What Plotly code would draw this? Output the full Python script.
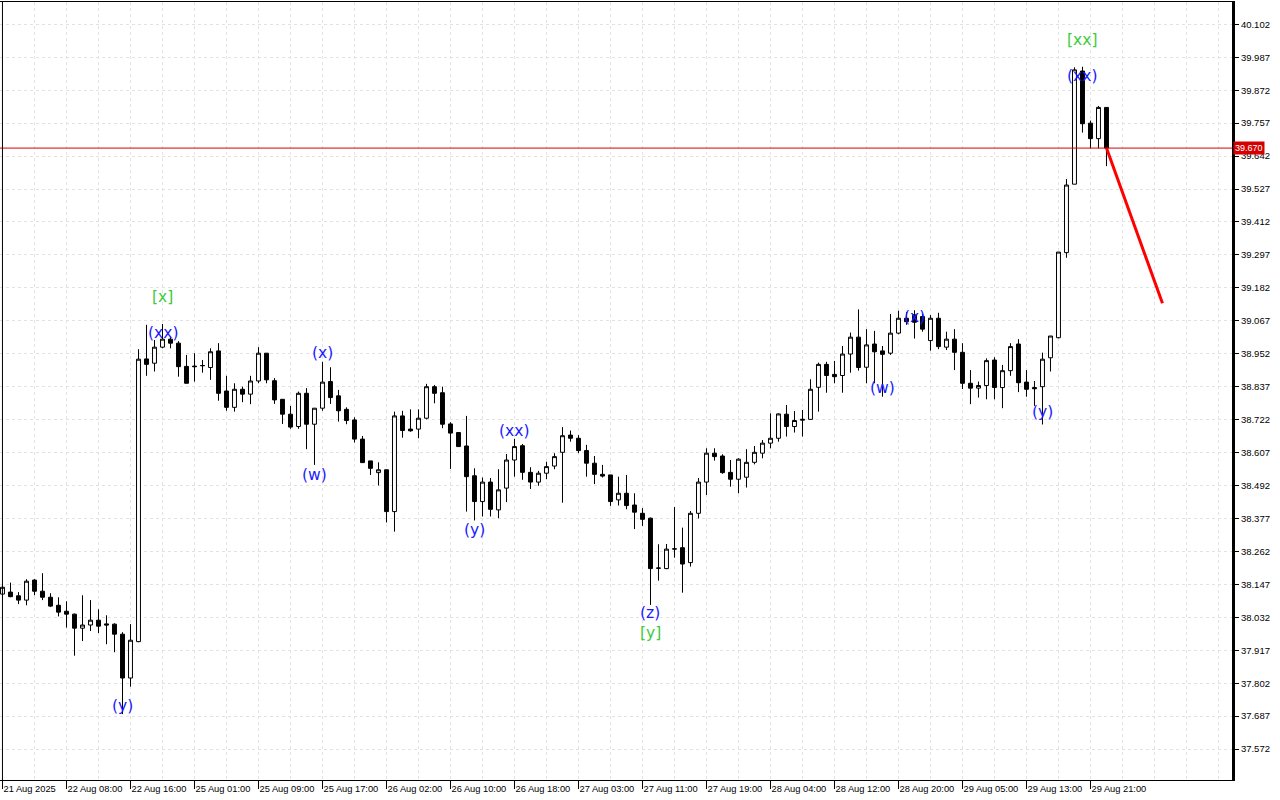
import plotly.graph_objects as go

# ---- data (hourly bars, 21 Aug 23:00 .. 29 Aug 23:00) ----
opens = [38.113, 38.120, 38.107, 38.092, 38.162, 38.123, 38.102, 38.074, 38.053, 38.043,
         37.994, 38.005, 38.022, 38.009, 38.008, 37.973, 37.820, 37.947, 38.934, 38.919,
         38.975, 39.003, 38.989, 38.908, 38.909, 38.910, 38.904, 38.962, 38.822, 38.765,
         38.828, 38.811, 38.857, 38.954, 38.858, 38.793, 38.741, 38.698, 38.814, 38.706,
         38.762, 38.855, 38.805, 38.758, 38.721, 38.654, 38.578, 38.537, 38.547, 38.401,
         38.735, 38.689, 38.689, 38.727, 38.837, 38.816, 38.707, 38.677, 38.630, 38.526,
         38.436, 38.504, 38.407, 38.483, 38.581, 38.631, 38.538, 38.504, 38.535, 38.560,
         38.608, 38.668, 38.657, 38.614, 38.570, 38.531, 38.529, 38.442, 38.465, 38.424,
         38.395, 38.378, 38.203, 38.202, 38.270, 38.275, 38.223, 38.395, 38.504, 38.605,
         38.595, 38.538, 38.514, 38.521, 38.573, 38.605, 38.640, 38.657, 38.741, 38.698,
         38.720, 38.723, 38.835, 38.915, 38.880, 38.876, 38.951, 39.010, 38.905, 38.986,
         38.962, 38.954, 39.024, 39.076, 39.088, 39.082, 38.998, 39.076, 38.975, 39.003,
         38.957, 38.849, 38.832, 38.841, 38.930, 38.834, 38.893, 38.986, 38.853, 38.834,
         38.837, 38.938, 39.008, 39.305, 39.544, 39.939, 39.757, 39.703, 39.812]
highs = [38.150, 38.153, 38.120, 38.165, 38.165, 38.186, 38.116, 38.102, 38.088, 38.045,
         38.109, 38.092, 38.060, 38.039, 38.011, 37.980, 38.008, 38.968, 39.053, 39.000,
         39.056, 39.012, 38.996, 38.948, 38.954, 38.930, 38.971, 38.989, 38.875, 38.849,
         38.837, 38.875, 38.975, 38.954, 38.867, 38.793, 38.770, 38.820, 38.832, 38.762,
         38.924, 38.905, 38.826, 38.765, 38.730, 38.665, 38.578, 38.573, 38.547, 38.750,
         38.753, 38.758, 38.758, 38.847, 38.843, 38.837, 38.713, 38.677, 38.735, 38.552,
         38.520, 38.518, 38.549, 38.602, 38.655, 38.637, 38.556, 38.543, 38.575, 38.605,
         38.696, 38.684, 38.668, 38.634, 38.595, 38.564, 38.529, 38.523, 38.529, 38.465,
         38.413, 38.380, 38.287, 38.288, 38.417, 38.345, 38.403, 38.518, 38.622, 38.622,
         38.601, 38.581, 38.587, 38.619, 38.630, 38.651, 38.744, 38.744, 38.773, 38.752,
         38.756, 38.863, 38.921, 38.924, 38.927, 38.979, 39.026, 39.107, 39.038, 39.032,
         38.979, 39.091, 39.102, 39.098, 39.104, 39.091, 39.087, 39.095, 39.029, 39.038,
         38.989, 38.895, 38.855, 38.936, 38.940, 38.913, 38.989, 39.003, 38.895, 38.857,
         38.956, 39.014, 39.307, 39.562, 39.952, 39.954, 39.766, 39.817, 39.812]
lows = [38.100, 38.102, 38.078, 38.074, 38.109, 38.092, 38.068, 38.035, 37.996, 37.898,
        37.949, 37.984, 37.977, 37.938, 37.910, 37.694, 37.790, 37.945, 38.875, 38.890,
        38.971, 38.971, 38.872, 38.849, 38.855, 38.886, 38.861, 38.788, 38.753, 38.750,
        38.783, 38.776, 38.849, 38.849, 38.777, 38.707, 38.690, 38.690, 38.619, 38.564,
        38.753, 38.777, 38.715, 38.706, 38.642, 38.572, 38.529, 38.492, 38.363, 38.331,
        38.659, 38.680, 38.657, 38.723, 38.779, 38.692, 38.550, 38.628, 38.401, 38.370,
        38.384, 38.384, 38.378, 38.434, 38.523, 38.512, 38.480, 38.491, 38.514, 38.549,
        38.432, 38.645, 38.605, 38.523, 38.497, 38.520, 38.421, 38.422, 38.409, 38.340,
        38.351, 38.075, 38.160, 38.200, 38.240, 38.118, 38.209, 38.377, 38.459, 38.579,
        38.533, 38.488, 38.465, 38.485, 38.566, 38.587, 38.622, 38.645, 38.663, 38.677,
        38.663, 38.722, 38.750, 38.816, 38.849, 38.816, 38.886, 38.893, 38.849, 38.849,
        38.802, 38.948, 39.020, 39.053, 39.005, 39.029, 38.963, 38.968, 38.965, 38.895,
        38.829, 38.776, 38.799, 38.793, 38.793, 38.762, 38.875, 38.818, 38.802, 38.770,
        38.705, 38.890, 39.006, 39.287, 39.544, 39.724, 39.669, 39.669, 39.607]
closes = [38.137, 38.104, 38.092, 38.158, 38.123, 38.102, 38.071, 38.050, 38.043, 37.994,
          38.005, 38.022, 38.001, 38.005, 37.973, 37.820, 37.952, 38.933, 38.915, 38.975,
          39.003, 38.989, 38.907, 38.849, 38.907, 38.911, 38.959, 38.814, 38.765, 38.828,
          38.811, 38.857, 38.954, 38.861, 38.791, 38.741, 38.696, 38.814, 38.706, 38.762,
          38.853, 38.799, 38.753, 38.719, 38.654, 38.572, 38.552, 38.547, 38.401, 38.735,
          38.684, 38.683, 38.727, 38.837, 38.814, 38.706, 38.675, 38.628, 38.523, 38.436,
          38.504, 38.409, 38.477, 38.581, 38.628, 38.538, 38.504, 38.535, 38.558, 38.593,
          38.666, 38.657, 38.614, 38.570, 38.531, 38.525, 38.436, 38.465, 38.422, 38.399,
          38.374, 38.202, 38.204, 38.270, 38.271, 38.218, 38.395, 38.504, 38.605, 38.593,
          38.537, 38.514, 38.584, 38.573, 38.608, 38.640, 38.657, 38.742, 38.698, 38.719,
          38.723, 38.828, 38.915, 38.876, 38.872, 38.951, 39.010, 38.904, 38.983, 38.959,
          38.950, 39.024, 39.076, 39.064, 39.062, 39.038, 39.076, 38.977, 39.003, 38.957,
          38.849, 38.832, 38.841, 38.928, 38.834, 38.893, 38.977, 38.851, 38.828, 38.830,
          38.933, 39.014, 39.307, 39.541, 39.943, 39.755, 39.703, 39.812, 39.670]

tick_labels = ["21 Aug 2025", "22 Aug 08:00", "22 Aug 16:00", "25 Aug 01:00", "25 Aug 09:00",
               "25 Aug 17:00", "26 Aug 02:00", "26 Aug 10:00", "26 Aug 18:00", "27 Aug 03:00",
               "27 Aug 11:00", "27 Aug 19:00", "28 Aug 04:00", "28 Aug 12:00", "28 Aug 20:00",
               "29 Aug 05:00", "29 Aug 13:00", "29 Aug 21:00"]
tick_bar_step = 8

y_ticks = [37.572 + 0.115 * i for i in range(23)]

wave_text = ["(y)", "[x]", "(xx)", "(w)", "(x)", "(y)", "(xx)", "(z)", "[y]",
             "(w)", "(x)", "(y)", "[xx]", "(xx)"]
wave_bar = [15, 20, 20, 39, 40, 59, 64, 81, 81, 110, 114, 130, 135, 135]
wave_price = [37.723, 39.150, 39.025, 38.529, 38.954, 38.337, 38.683, 38.047, 37.978,
              38.833, 39.080, 38.749, 40.047, 39.922]
wave_level = ["minor", "major", "minor", "minor", "minor", "minor", "minor", "minor", "major",
              "minor", "minor", "minor", "major", "minor"]

current_price = 39.670
forecast_bar = [138, 145]
forecast_price = [39.670, 39.128]

# ---- figure ----
idx = list(range(len(opens)))
fig = go.Figure()
fig.add_trace(go.Candlestick(
    x=idx, open=opens, high=highs, low=lows, close=closes,
    increasing=dict(fillcolor="white", line=dict(color="black", width=1)),
    decreasing=dict(fillcolor="black", line=dict(color="black", width=1)),
    whiskerwidth=0, showlegend=False, hoverinfo="skip"))

fig.add_trace(go.Scatter(x=forecast_bar, y=forecast_price, mode="lines",
                         line=dict(color="#ff0000", width=3), showlegend=False,
                         hoverinfo="skip"))

colors = {"minor": "#1a1aff", "major": "#3ccc3c"}
for t, b, p, lv in zip(wave_text, wave_bar, wave_price, wave_level):
    fig.add_annotation(x=b, y=p, text=t, showarrow=False,
                       font=dict(family="DejaVu Sans", size=15.5, color=colors[lv]))

fig.add_shape(type="line", xref="paper", x0=0, x1=1, yref="y",
              y0=current_price, y1=current_price,
              line=dict(color="#d40000", width=1))
fig.add_shape(type="line", xref="paper", x0=0.002, x1=0.002, yref="paper", y0=0, y1=1,
              line=dict(color="black", width=1))
fig.add_annotation(xref="paper", x=1, xanchor="left", xshift=1, y=current_price,
                   text=f"{current_price:.3f}", showarrow=False, bgcolor="#d40000",
                   borderpad=1,
                   font=dict(family="Liberation Sans", size=9, color="white"))

n_view = 153.69
fig.update_layout(
    width=1280, height=800,
    margin=dict(l=0, r=48, t=2, b=20, autoexpand=False),
    paper_bgcolor="white", plot_bgcolor="white",
    xaxis=dict(
        automargin=False,
        range=[-0.3125, n_view], rangeslider=dict(visible=False),
        tickmode="array",
        tickvals=[i * tick_bar_step for i in range(len(tick_labels))],
        ticktext=tick_labels, ticks="outside", ticklen=8, tickcolor="black",
        ticklabelposition="outside right", tickangle=0,
        tickfont=dict(family="Liberation Sans", size=9.3, color="black"),
        showgrid=False, zeroline=False,
        showline=True, linecolor="black", linewidth=1, mirror=True,
        minor=dict(tickmode="array", tickvals=list(range(0, 156, 4)), showgrid=True,
                   gridcolor="#e2e2e2", griddash="3px,3px", gridwidth=1, ticks=""),
    ),
    yaxis=dict(
        automargin=False,
        range=[37.464, 40.180], side="right",
        tickmode="array", tickvals=y_ticks, ticktext=[f"{v:.3f}" for v in y_ticks],
        ticks="outside", ticklen=4, tickcolor="black",
        tickfont=dict(family="Liberation Sans", size=9.5, color="black"),
        showgrid=True, gridcolor="#e2e2e2", griddash="3px,3px", gridwidth=1,
        zeroline=False, showline=True, linecolor="black", linewidth=3,
    ),
)

fig.write_html("out.html", config={"displayModeBar": False},
               post_script="document.body.style.margin='0';document.body.style.overflow='hidden';")
